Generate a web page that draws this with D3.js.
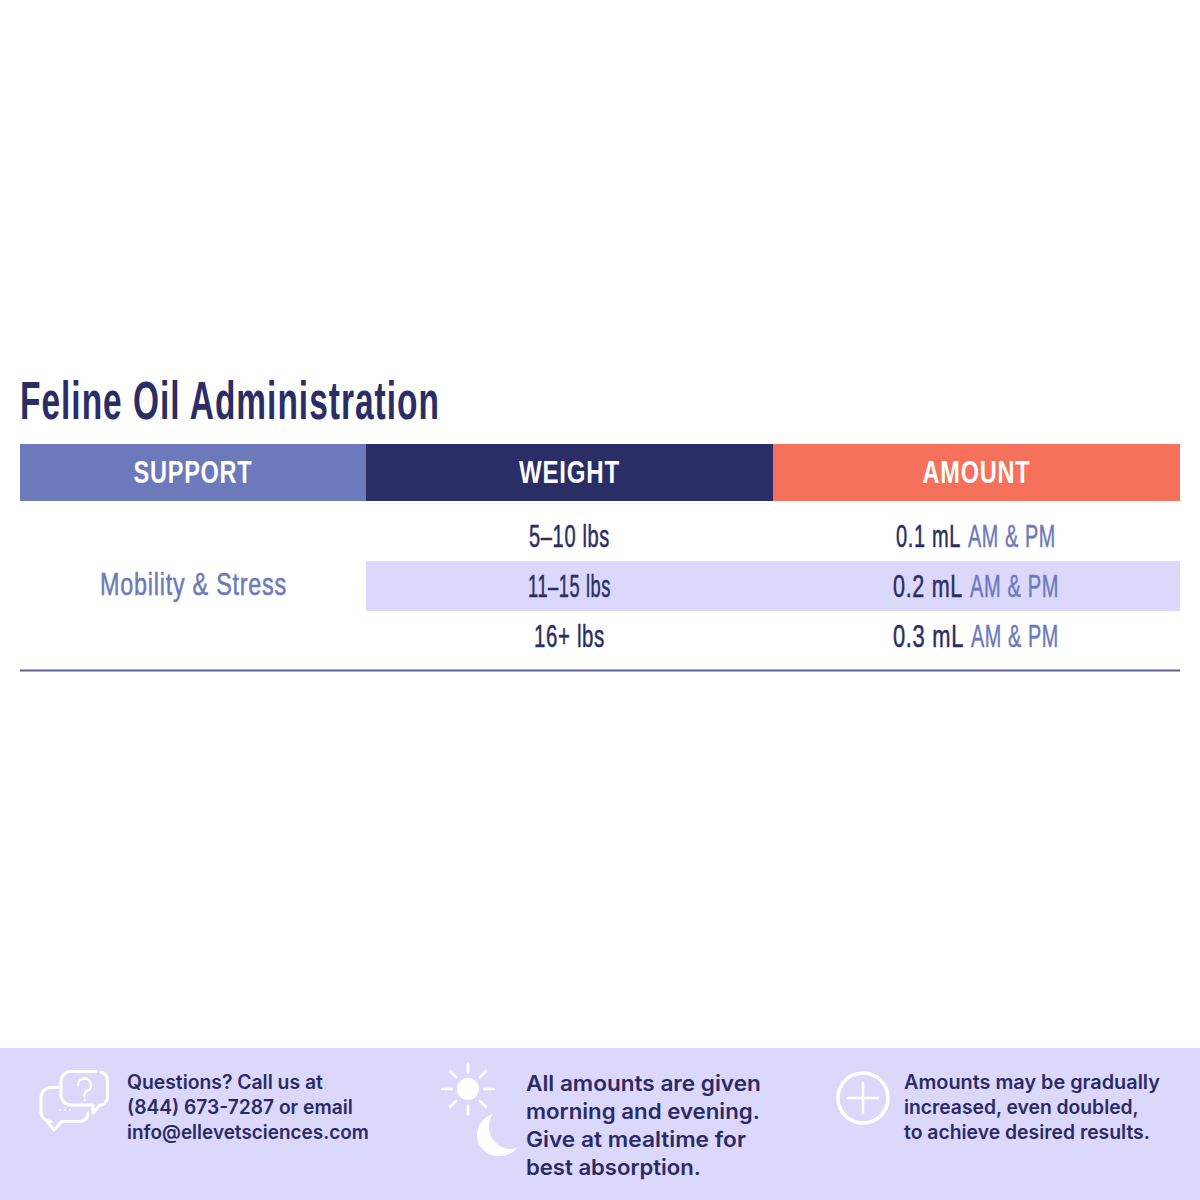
<!DOCTYPE html>
<html><head><meta charset="utf-8">
<style>html,body{margin:0;padding:0;background:#fff}svg{display:block}</style>
<script src="https://cdn.jsdelivr.net/npm/d3@7"></script></head>
<body><svg id="c" width="1200" height="1200"></svg>
<script>
const title = "Feline Oil Administration";
const columns = ["SUPPORT", "WEIGHT", "AMOUNT"];
const support = "Mobility & Stress";
const weights = ["5–10 lbs", "11–15 lbs", "16+ lbs"];
const doses = ["0.1 mL", "0.2 mL", "0.3 mL"];
const timing = "AM & PM";
const notes = [
  ["Questions? Call us at", "(844) 673-7287 or email", "info@ellevetsciences.com"],
  ["All amounts are given", "morning and evening.", "Give at mealtime for", "best absorption."],
  ["Amounts may be gradually", "increased, even doubled,", "to achieve desired results."]
];

const NAVY="#2a2d66", BLUE="#6c79bb", CORAL="#f5715c", LAV="#dcd8fb", INK="#2b2a68";
const NARROW="'Liberation Sans Narrow','Liberation Sans',sans-serif", ROUND="Inter,'Noto Sans',sans-serif";
const svg=d3.select("#c");
svg.append("rect").attr("width",1200).attr("height",1200).attr("fill","#fff");

const colEdges=[20,366,773,1180];
const colX=d3.scaleOrdinal().domain(columns).range(colEdges.slice(0,3));
const colW=d3.scaleOrdinal().domain(columns).range([346,407,407]);
const colFill=d3.scaleOrdinal().domain(columns).range([BLUE,NAVY,CORAL]);
const rowY=d3.scaleBand().domain(weights).range([511,661]);

// real text, condensed horizontally to the width it has in the reference
function put(str,x,y,o){
  const t=svg.append("text").attr("font-size",o.size).attr("fill",o.fill)
    .attr("font-family",o.family||NARROW).attr("font-weight",o.weight||400)
    .attr("text-anchor",o.anchor||"start")
    .attr("letter-spacing",o.ls||0)
    .attr("stroke",o.stroke?o.fill:"none").attr("stroke-width",o.stroke||0)
    .text(str);
  const n=t.node().getComputedTextLength();
  t.attr("transform",`translate(${x},${y}) scale(${o.width/n},1)`);
  return t;
}
put(title,20,419,{size:53,fill:NAVY,width:420,weight:700,ls:1.6});

svg.selectAll("rect.h").data(columns).join("rect").attr("class","h")
  .attr("x",d=>colX(d)).attr("y",444).attr("width",d=>colW(d)).attr("height",57).attr("fill",d=>colFill(d));
const headW=[119,101,108];
columns.forEach((c,i)=>put(c,colX(c)+colW(c)/2,483,{size:31,fill:"#fff",width:headW[i],anchor:"middle",weight:700,ls:1}));

svg.append("rect").attr("x",colX("WEIGHT")).attr("y",rowY(weights[1])).attr("width",814).attr("height",rowY.bandwidth()).attr("fill",LAV);
put(support,193.5,595,{size:31,fill:BLUE,width:187,anchor:"middle",ls:1,stroke:0.5});

const wW=[81,83,71], dX=[896,893,893], dW=[65,70,71], tX=[968,970,971], tW=[88,89,88];
weights.forEach((w,i)=>{
  const base=rowY(w)+36;
  put(w,569.5,base,{size:31.5,fill:NAVY,width:wW[i],anchor:"middle",ls:1,stroke:0.5});
  put(doses[i],dX[i],base,{size:31.5,fill:NAVY,width:dW[i],ls:1,stroke:0.5});
  put(timing,tX[i],base,{size:31.5,fill:BLUE,width:tW[i],ls:1,stroke:0.5});
});
svg.append("line").attr("x1",20).attr("x2",1180).attr("y1",670.5).attr("y2",670.5).attr("stroke","#5f6291").attr("stroke-width",2);

svg.append("rect").attr("x",0).attr("y",1048).attr("width",1200).attr("height",152).attr("fill",LAV);
const noteX=[127,526,904], noteY=[1089,1091,1089], noteStep=[25,28,25], noteSize=[19.5,21.5,19.5];
const noteW=[[196,226,242],[235,234,220,175],[256,235,246]];
notes.forEach((lines,k)=>lines.forEach((l,i)=>
  put(l,noteX[k],noteY[k]+i*noteStep[k],{size:noteSize[k],fill:INK,width:noteW[k][i],weight:600,family:ROUND})));

const ic=svg.append("g").attr("fill","none").attr("stroke","#fff").attr("stroke-linecap","round").attr("stroke-linejoin","round");
ic.append("path").attr("stroke-width",3).attr("d","M96 1071.5H71a10 10 0 0 0-10 10V1095a10 10 0 0 0 10 10H88M88 1105 H93V1113L100 1105a8 8 0 0 0 7.5-8V1080a9 9 0 0 0-6.5-8");
ic.append("path").attr("stroke-width",3).attr("d","M58 1087.5H51a10 10 0 0 0-10 10V1112a10 10 0 0 0 10 9.5H47L54 1130L62 1121.5H80a8 8 0 0 0 8-8.5");
ic.append("path").attr("stroke-width",2.4).attr("d","M78 1085a6.5 6.5 0 1 1 9 6c-2 1-2.5 2-2.5 5M84.5 1100v.1");
ic.append("path").attr("stroke-width",2).attr("d","M60 1110v.1M65 1110v.1M70 1110v.1");
ic.append("circle").attr("cx",468).attr("cy",1089).attr("r",11).attr("fill","#fff").attr("stroke","none");
d3.range(8).forEach(i=>{const a=i*Math.PI/4;
  ic.append("line").attr("stroke-width",2.6).attr("x1",468+16.5*Math.cos(a)).attr("y1",1089+16.5*Math.sin(a)).attr("x2",468+25.5*Math.cos(a)).attr("y2",1089+25.5*Math.sin(a));});
ic.append("path").attr("fill","#fff").attr("stroke","none").attr("d","M493 1114A22 22 0 0 0 477 1135A21 21 0 0 0 499 1156A22 22 0 0 0 517 1148A22 22 0 0 1 493 1114Z");
ic.append("circle").attr("cx",863).attr("cy",1098).attr("r",25).attr("stroke-width",3.6);
ic.append("path").attr("stroke-width",2.6).attr("d","M848 1098H878M863 1083V1113");
</script></body></html>
